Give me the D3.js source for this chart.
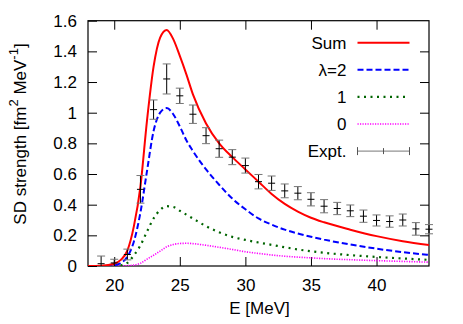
<!DOCTYPE html>
<html>
<head>
<meta charset="utf-8">
<script src="https://cdn.jsdelivr.net/npm/d3@7"></script>
<style>
  body { margin: 0; background: #fff; }
  text { font-family: "Liberation Sans", Arial, sans-serif; }
</style>
</head>
<body>
<svg id="chart" width="463" height="324"></svg>
<script>
// energies the theory curves are read at
const curveE   = [18, 19, 20, 20.5, 21, 21.5, 22, 22.5, 23, 23.5, 24, 24.5, 25, 25.5, 26, 27, 28, 29, 30, 31, 32, 33, 34, 35, 36, 38, 40, 42, 44]
const sumVals  = [0, 0.002, 0.015, 0.04, 0.1, 0.26, 0.52, 0.95, 1.3, 1.49, 1.54, 1.48, 1.37, 1.25, 1.12, 0.93, 0.8, 0.71, 0.63, 0.55, 0.47, 0.405, 0.355, 0.315, 0.285, 0.237, 0.195, 0.162, 0.137]
const lam2Vals = [0, 0, 0.005, 0.02, 0.06, 0.16, 0.35, 0.62, 0.88, 1.0, 1.03, 0.99, 0.91, 0.82, 0.75, 0.63, 0.53, 0.44, 0.37, 0.31, 0.27, 0.237, 0.212, 0.191, 0.172, 0.14, 0.113, 0.09, 0.072]
const lam1Vals = [0, 0, 0, 0.005, 0.02, 0.07, 0.135, 0.225, 0.31, 0.365, 0.39, 0.385, 0.36, 0.335, 0.31, 0.26, 0.22, 0.19, 0.17, 0.153, 0.138, 0.122, 0.108, 0.096, 0.086, 0.071, 0.059, 0.049, 0.04]
const lam0Vals = [0, 0, 0, 0, 0.002, 0.006, 0.018, 0.045, 0.07, 0.097, 0.125, 0.14, 0.147, 0.148, 0.146, 0.135, 0.122, 0.108, 0.093, 0.082, 0.072, 0.064, 0.058, 0.053, 0.048, 0.041, 0.035, 0.03, 0.025]

// experiment
const exptE   = [19, 20, 21, 22, 23, 24, 25, 26, 27, 28, 29, 30, 31, 32, 33, 34, 35, 36, 37, 38, 39, 40, 41, 42, 43, 44]
const exptV   = [0.015, 0.02, 0.075, 0.5, 1.02, 1.22, 1.11, 0.99, 0.85, 0.765, 0.71, 0.655, 0.55, 0.54, 0.49, 0.475, 0.435, 0.39, 0.375, 0.36, 0.325, 0.297, 0.29, 0.3, 0.242, 0.24]
const exptErr = [0.05, 0.024, 0.035, 0.09, 0.063, 0.098, 0.05, 0.06, 0.052, 0.056, 0.049, 0.049, 0.047, 0.047, 0.045, 0.043, 0.043, 0.043, 0.04, 0.038, 0.04, 0.036, 0.037, 0.039, 0.041, 0.03]

const xTicks = [20, 25, 30, 35, 40]
const yTicks = [0, 0.2, 0.4, 0.6, 0.8, 1, 1.2, 1.4, 1.6]
const legendLabels = ['Sum', 'λ=2', '1', '0', 'Expt.']

const svg = d3.select('#chart')
const pLeft = 88, pRight = 429, pTop = 20.7, pBottom = 266

const x = d3.scaleLinear().domain([18, 44]).range([pLeft, pRight])
const y = d3.scaleLinear().domain([0, 1.6]).range([pBottom, pTop])

svg.append('defs').append('clipPath').attr('id', 'plotclip')
  .append('rect')
  .attr('x', pLeft).attr('y', pTop)
  .attr('width', pRight - pLeft).attr('height', pBottom - pTop)

// axes, ticks point inwards and are mirrored
const fontSize = 17
svg.append('g')
  .attr('transform', `translate(${pLeft},0)`)
  .call(d3.axisLeft(y).tickValues(yTicks).tickSize(-9).tickPadding(11).tickFormat(d3.format('~g')))
svg.append('g')
  .attr('transform', `translate(0,${pBottom})`)
  .call(d3.axisBottom(x).tickValues(xTicks).tickSize(-9).tickPadding(13))
svg.append('g')
  .attr('transform', `translate(0,${pTop})`)
  .call(d3.axisTop(x).tickValues(xTicks).tickSize(-9).tickFormat(''))
svg.append('g')
  .attr('transform', `translate(${pRight},0)`)
  .call(d3.axisRight(y).tickValues(yTicks.slice(1, -1)).tickSize(-9).tickFormat(''))

svg.selectAll('.domain').remove()
svg.selectAll('.tick line').attr('stroke', '#000')
svg.selectAll('.tick text')
  .attr('font-size', fontSize)
  .attr('font-family', '"Liberation Sans", Arial, sans-serif')
  .attr('fill', '#000')

svg.append('rect')
  .attr('x', pLeft).attr('y', pTop)
  .attr('width', pRight - pLeft).attr('height', pBottom - pTop)
  .attr('fill', 'none').attr('stroke', '#000').attr('stroke-width', 1.2)

// axis titles
svg.append('text')
  .attr('x', (pLeft + pRight) / 2 + 1).attr('y', 314)
  .attr('text-anchor', 'middle')
  .attr('font-size', fontSize)
  .text('E [MeV]')

const yLab = svg.append('text')
  .attr('transform', 'translate(26,134) rotate(-90)')
  .attr('text-anchor', 'middle')
  .attr('font-size', fontSize)
yLab.append('tspan').text('SD strength [fm')
yLab.append('tspan').attr('dy', -8).attr('font-size', 13).text('2')
yLab.append('tspan').attr('dy', 8).text(' MeV')
yLab.append('tspan').attr('dy', -8).attr('font-size', 13).text('-1')
yLab.append('tspan').attr('dy', 8).text(']')

// theory curves
const series = [
  {vals: sumVals,  color: '#ff0000', width: 2,   dash: null},
  {vals: lam2Vals, color: '#0000ff', width: 2,   dash: '6,3'},
  {vals: lam1Vals, color: '#006400', width: 2.2, dash: '2,4.5'},
  {vals: lam0Vals, color: '#ff00ff', width: 1.6, dash: '1.2,1.3'}
]

const line = d3.line()
  .x((d, i) => x(curveE[i]))
  .y(d => y(d))
  .curve(d3.curveMonotoneX)

const plotG = svg.append('g').attr('clip-path', 'url(#plotclip)')

// draw back to front so the sum sits on top
series.slice().reverse().forEach(s => {
  plotG.append('path')
    .datum(s.vals)
    .attr('d', line)
    .attr('fill', 'none')
    .attr('stroke', s.color)
    .attr('stroke-width', s.width)
    .attr('stroke-dasharray', s.dash)
})

// experimental points with error bars
const expt = exptE.map((e, i) => ({e: e, v: exptV[i], err: exptErr[i]}))
const ptG = svg.append('g').selectAll('g')
  .data(expt)
  .enter()
  .append('g')

ptG.append('line')
  .attr('x1', d => x(d.e)).attr('x2', d => x(d.e))
  .attr('y1', d => y(d.v + d.err)).attr('y2', d => Math.min(pBottom, y(d.v - d.err)))
  .attr('stroke', '#000').attr('stroke-width', 1)
ptG.append('line')
  .attr('x1', d => x(d.e) - 4).attr('x2', d => x(d.e) + 4)
  .attr('y1', d => y(d.v + d.err)).attr('y2', d => y(d.v + d.err))
  .attr('stroke', '#777').attr('stroke-width', 1)
ptG.filter(d => y(d.v - d.err) < pBottom).append('line')
  .attr('x1', d => x(d.e) - 4).attr('x2', d => x(d.e) + 4)
  .attr('y1', d => y(d.v - d.err)).attr('y2', d => y(d.v - d.err))
  .attr('stroke', '#777').attr('stroke-width', 1)
ptG.append('line')
  .attr('x1', d => x(d.e) - 3.5).attr('x2', d => x(d.e) + 3.5)
  .attr('y1', d => y(d.v)).attr('y2', d => y(d.v))
  .attr('stroke', '#000').attr('stroke-width', 1)

// legend
const legG = svg.append('g').selectAll('g')
  .data(legendLabels)
  .enter()
  .append('g')
  .attr('transform', (d, i) => `translate(0,${42.7 + i * 27.1})`)

legG.append('text')
  .attr('x', 346.5).attr('y', 0)
  .attr('dy', '0.35em')
  .attr('text-anchor', 'end')
  .attr('font-size', fontSize)
  .text(d => d)

legG.filter((d, i) => i < 4).append('line')
  .attr('x1', 357.5).attr('x2', 409.5)
  .attr('y1', 0).attr('y2', 0)
  .attr('stroke', (d, i) => series[i].color)
  .attr('stroke-width', (d, i) => series[i].width)
  .attr('stroke-dasharray', (d, i) => series[i].dash)

const exG = legG.filter((d, i) => i == 4)
exG.append('line')
  .attr('x1', 357.5).attr('x2', 409.5).attr('y1', 0).attr('y2', 0)
  .attr('stroke', '#777').attr('stroke-width', 1)
;[357.5, 383.5, 409.5].forEach((px, k) => {
  exG.append('line')
    .attr('x1', px).attr('x2', px)
    .attr('y1', k == 1 ? -3 : -4).attr('y2', k == 1 ? 3 : 4)
    .attr('stroke', '#555').attr('stroke-width', 1)
})
</script>
</body>
</html>
